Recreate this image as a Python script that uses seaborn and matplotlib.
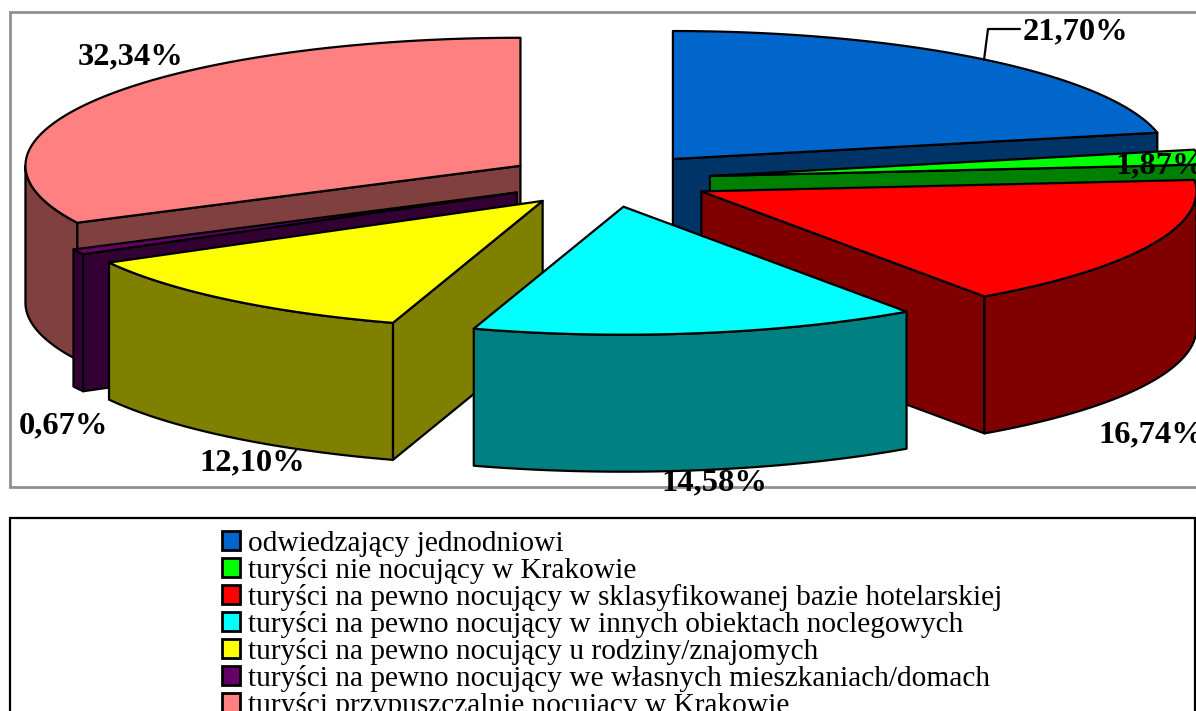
import numpy as np
import matplotlib
matplotlib.use("Agg")
import matplotlib.pyplot as plt
from matplotlib.patches import Patch, Polygon, Rectangle
import seaborn as sns

categories = [
    "odwiedzający jednodniowi",
    "turyści nie nocujący w Krakowie",
    "turyści na pewno nocujący w sklasyfikowanej bazie hotelarskiej",
    "turyści na pewno nocujący w innych obiektach noclegowych",
    "turyści na pewno nocujący u rodziny/znajomych",
    "turyści na pewno nocujący we własnych mieszkaniach/domach",
    "turyści przypuszczalnie nocujący w Krakowie",
]
shares = [21.70, 1.87, 16.74, 14.58, 12.10, 0.67, 32.34]
top_colors = ["#0066CC", "#00FF00", "#FF0000", "#00FFFF", "#FFFF00", "#660066", "#FF8080"]

# layout of the projected pie (pixels of the figure)
CX, CY = 608, 180
RX, RY = 495, 128
EX, EY = 103, 27
DEPTH = 137
LW = 1.6
label_xy = [(1075, 32), (1160, 166), (1151, 435), (714, 483),
            (252, 463), (63, 426), (131, 57)]
draw_order = [6, 0, 1, 5, 2, 4, 3]

sns.set_theme(style="white")
plt.rcParams["font.family"] = ["Liberation Serif", "DejaVu Serif"]
palette = sns.color_palette(top_colors)
side_palette = [tuple(c * 0.5 for c in col) for col in palette]

fig, ax = plt.subplots(figsize=(11.96, 7.11), dpi=100)
ax.set_position([0, 0, 1, 1])
ax.set_xlim(0, 1196)
ax.set_ylim(711, 0)
ax.axis("off")

ax.add_patch(Rectangle((10, 12), 1230, 475, fc="white", ec="#909090", lw=2.0, zorder=0))
ax.add_patch(Rectangle((10, 518), 1185, 260, fc="white", ec="black", lw=1.6, zorder=0))


def point(cx, cy, deg):
    t = np.radians(deg)
    return np.array([cx + RX * np.sin(t), cy - RY * np.cos(t)])


def arc(cx, cy, a, b):
    t = np.linspace(a, b, max(int(abs(b - a) * 2), 2))
    return np.column_stack([point(cx, cy, d) for d in t]).T


def face(pts, color, z):
    ax.add_patch(Polygon(pts, closed=True, fc=color, ec="black", lw=LW,
                         joinstyle="round", zorder=z))


edges = np.concatenate([[0], np.cumsum(shares)]) * 3.6
down = np.array([0, DEPTH])
for rank, i in enumerate(draw_order):
    a, b = edges[i], edges[i + 1]
    mid = np.radians((a + b) / 2)
    cx = CX + EX * np.sin(mid)
    cy = CY - EY * np.cos(mid)
    apex = np.array([cx, cy])
    z = 1 + rank
    side = side_palette[i]
    # visible radial wall
    if a > 180:
        p = point(cx, cy, a)
        face([apex, p, p + down, apex + down], side, z)
    if b < 180:
        p = point(cx, cy, b)
        face([apex, p, p + down, apex + down], side, z)
    # visible outer wall
    lo, hi = max(a, 90), min(b, 270)
    if hi > lo:
        rim = arc(cx, cy, lo, hi)
        face(np.vstack([rim, rim[::-1] + down]), side, z)
    # top
    face(np.vstack([apex, arc(cx, cy, a, b)]), palette[i], z)

ax.plot([1020, 988, 984], [29, 29, 60], color="black", lw=LW, zorder=20)

for v, (x, y) in zip(shares, label_xy):
    ax.text(x, y, f"{v:.2f}%".replace(".", ","), ha="center", va="center",
            fontsize=23.4, fontweight="bold", color="black", zorder=30)

handles = [Patch(fc=c, ec="black", lw=2.0) for c in palette]
leg = ax.legend(handles, categories, loc="upper left",
                bbox_to_anchor=(222 / 1196, 1 - 531 / 711), frameon=False,
                fontsize=21.2, labelspacing=0.0, handlelength=0.6, handleheight=0.6,
                handletextpad=0.3, borderpad=0, borderaxespad=0, labelcolor="black")
leg.set_zorder(30)

fig.savefig("out.png", dpi=100, facecolor="white")
